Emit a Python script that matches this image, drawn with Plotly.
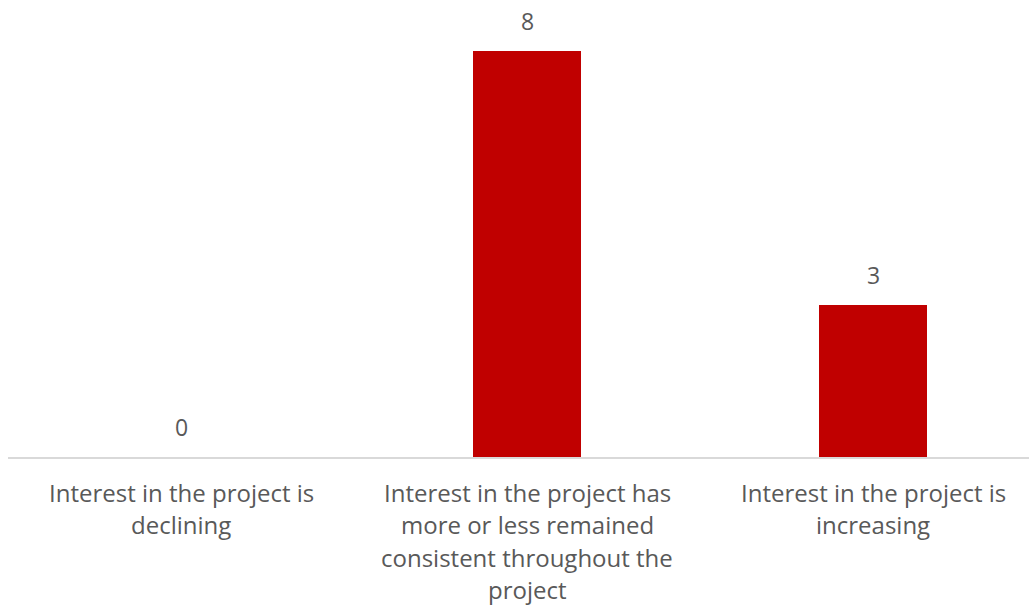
import plotly.graph_objects as go

categories = ["declining", "consistent", "increasing"]
values = [0, 8, 3]
tick_lines = [
    ["Interest in the project is", "declining"],
    ["Interest in the project has", "more or less remained", "consistent throughout the", "project"],
    ["Interest in the project is", "increasing"],
]

BAR = "#C00000"
GRAY = "#595959"
FONT = "Open Sans"

fig = go.Figure()
fig.add_trace(go.Bar(x=categories, y=values, marker_color=BAR, width=0.312,
                     marker_line_width=0, hoverinfo="skip", showlegend=False))

annotations = []
for c, v in zip(categories, values):
    annotations.append(dict(x=c, y=v, xref="x", yref="y", text=str(v), showarrow=False,
                            yanchor="bottom", yshift=12,
                            font=dict(family=FONT, size=23, color=GRAY)))
for c, lines in zip(categories, tick_lines):
    for i, t in enumerate(lines):
        annotations.append(dict(x=c, y=0, xref="x", yref="y", text=t, showarrow=False,
                                yanchor="middle", yshift=-(35 + 32.5 * i),
                                font=dict(family=FONT, size=24, color=GRAY)))

fig.update_layout(
    width=1029, height=606,
    margin=dict(l=8, r=0, t=0, b=149),
    plot_bgcolor="white", paper_bgcolor="white",
    bargap=0,
    xaxis=dict(type="category", range=[-0.5, 2.45], showticklabels=False, ticks="",
               showline=True, linecolor="#D9D9D9", linewidth=2, showgrid=False, zeroline=False,
               fixedrange=True),
    yaxis=dict(range=[0, 9], visible=False, showgrid=False, zeroline=False),
    annotations=annotations,
)

fig.write_html("out.html")
